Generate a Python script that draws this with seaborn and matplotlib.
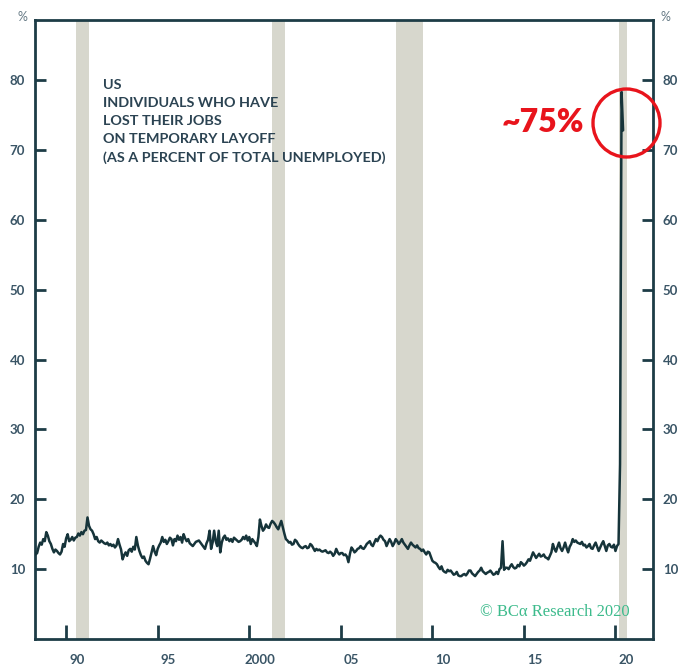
import numpy as np
import pandas as pd
import matplotlib
matplotlib.use("Agg")
import matplotlib.pyplot as plt
from matplotlib.patches import Ellipse
import seaborn as sns

# Job losers on temporary layoff, % of total unemployed (monthly, Jan 1988 - May 2020)
values_1988_1995 = [
    12.4, 12.0, 12.6, 12.1, 12.3, 13.2, 13.8, 13.5, 14.3, 14.0, 15.3, 14.8,   # 1988
    14.0, 13.6, 12.9, 12.4, 12.8, 12.6, 12.3, 12.1, 12.5, 13.6, 13.2, 14.4,   # 1989
    15.0, 14.0, 14.2, 14.6, 14.1, 14.5, 14.6, 15.1, 14.8, 15.3, 15.0, 15.5,   # 1990
    15.6, 17.4, 16.2, 15.7, 15.5, 15.0, 14.3, 14.6, 14.0, 13.8, 14.1, 13.9,   # 1991
    13.7, 13.6, 13.8, 13.4, 13.6, 13.3, 13.5, 13.1, 13.4, 14.3, 13.5, 12.8,   # 1992
    11.4, 12.0, 12.4, 11.9, 12.7, 12.9, 12.5, 13.2, 12.8, 14.6, 13.4, 12.6,   # 1993
    12.0, 11.6, 11.8, 11.2, 10.9, 10.7, 11.5, 12.4, 13.3, 12.5, 12.0, 12.9,   # 1994
    13.4, 13.8, 14.6, 13.9, 14.2, 13.6, 14.0, 14.5, 14.3, 13.4, 14.3, 14.0,   # 1995
]
values_1996_2003 = [
    14.8, 14.2, 14.6, 13.8, 15.0, 14.4, 14.0, 14.3, 13.7, 13.5, 13.3, 13.6,   # 1996
    13.9, 14.0, 14.1, 13.8, 13.5, 13.2, 12.9, 13.7, 14.2, 15.5, 12.9, 13.8,   # 1997
    15.5, 14.0, 13.3, 15.5, 12.4, 13.8, 14.5, 14.8, 14.2, 14.4, 14.0, 14.3,   # 1998
    13.9, 14.5, 14.3, 14.1, 13.9, 14.0, 14.2, 14.6, 14.3, 14.8, 14.1, 14.6,   # 1999
    13.6, 14.3, 14.0, 13.7, 13.3, 14.6, 17.1, 16.2, 15.5, 15.8, 16.4, 16.0,   # 2000
    15.9, 16.5, 16.9, 16.7, 16.4, 16.0, 15.7, 16.3, 16.9, 16.0, 15.1, 14.3,   # 2001
    14.1, 13.8, 13.9, 13.5, 13.6, 14.2, 14.0, 13.6, 13.3, 13.1, 13.0, 13.2,   # 2002
    13.3, 13.0, 13.1, 13.6, 13.4, 13.0, 12.6, 12.9, 12.7, 12.8, 12.6, 12.5,   # 2003
]
values_2004_2011 = [
    12.6, 12.7, 12.4, 12.3, 12.5, 12.3, 11.9, 12.2, 12.9, 12.4, 12.1, 12.3,   # 2004
    12.3, 12.0, 12.1, 11.8, 11.0, 12.2, 13.1, 12.8, 12.4, 12.6, 12.9, 13.0,   # 2005
    13.3, 13.0, 12.9, 13.2, 13.6, 13.8, 14.0, 13.5, 13.3, 13.8, 14.3, 14.0,   # 2006
    14.5, 14.8, 14.6, 14.2, 14.0, 13.3, 13.8, 14.3, 13.9, 13.3, 13.7, 14.3,   # 2007
    14.0, 13.6, 13.9, 14.3, 13.8, 13.5, 13.2, 12.9, 13.4, 13.8, 13.5, 13.3,   # 2008
    13.1, 13.4, 13.0, 12.9, 12.6, 12.8, 12.4, 12.1, 12.5, 12.4, 11.8, 11.2,   # 2009
    11.0, 10.9, 10.7, 10.3, 10.0, 10.4, 9.8, 9.6, 9.5, 9.9, 9.7, 9.8,         # 2010
    9.5, 9.2, 9.3, 9.6, 9.1, 9.0, 9.0, 9.2, 9.3, 9.1, 9.4, 9.8,               # 2011
]
values_2012_2020 = [
    9.8, 9.4, 9.2, 9.0, 9.3, 9.6, 9.8, 10.2, 9.7, 9.5, 9.3, 9.5,             # 2012
    9.6, 9.8, 9.5, 9.2, 9.3, 9.6, 9.3, 10.0, 10.2, 14.0, 9.9, 10.2,          # 2013
    10.2, 10.0, 10.4, 10.7, 10.3, 10.1, 10.2, 10.6, 10.4, 11.0, 10.8, 10.5,  # 2014
    10.7, 11.0, 11.4, 11.2, 11.8, 12.4, 12.0, 11.6, 11.9, 12.2, 11.8, 11.9,  # 2015
    12.1, 11.7, 11.6, 11.4, 11.9, 12.4, 13.6, 12.9, 12.5, 13.2, 13.8, 13.0,  # 2016
    12.6, 13.1, 13.8, 13.0, 12.4, 13.2, 13.6, 14.3, 13.9, 14.1, 13.8, 13.7,  # 2017
    13.6, 13.9, 13.4, 13.5, 13.1, 13.3, 13.6, 13.0, 12.9, 13.4, 13.8, 13.2,  # 2018
    12.6, 13.1, 13.6, 14.0, 13.3, 12.6, 13.4, 13.6, 13.2, 13.1, 13.5, 12.6,  # 2019
    13.3, 13.6, 25.0, 78.3, 72.8,                                            # 2020
]
start_year = 1988

# Recession periods (shaded)
recession_start = [1990.55, 2001.25, 2008.0, 2020.17]
recession_end = [1991.25, 2001.95, 2009.5, 2020.65]

y_ticks = [10, 20, 30, 40, 50, 60, 70, 80]
x_ticks = [1990, 1995, 2000, 2005, 2010, 2015, 2020]
x_tick_labels = ["90", "95", "2000", "05", "10", "15", "20"]

values = values_1988_1995 + values_1996_2003 + values_2004_2011 + values_2012_2020
months = np.arange(1, len(values) + 1)
df = pd.DataFrame({"date": start_year + months / 12.0, "share": values})

sns.set_style("white", {"xtick.bottom": True, "ytick.left": True})
plt.rcParams["font.family"] = ["Lato", "DejaVu Sans"]
plt.rcParams["ytick.right"] = True

INK = "#1d3c46"
LABEL = "#3a5566"

fig = plt.figure(figsize=(6.85, 6.68), dpi=100)
ax = fig.add_axes([35 / 685, 29 / 668, 618 / 685, 619 / 668])

for s, e in zip(recession_start, recession_end):
    ax.axvspan(s, e, color="#d7d7cd", lw=0, zorder=0)

sns.lineplot(data=df, x="date", y="share", ax=ax, color="#16343a", lw=1.8, zorder=3)

ax.set_xlim(1988.3, 2022.05)
ax.set_ylim(0, 88.6)
ax.set_xlabel("")
ax.set_ylabel("")

for sp in ax.spines.values():
    sp.set_color(INK)
    sp.set_linewidth(2.0)

ax.set_yticks(y_ticks)
ax.set_yticklabels([str(v) for v in y_ticks], fontweight="bold")
ax.yaxis.set_ticks_position("both")
ax.tick_params(axis="y", which="major", direction="in", length=8, width=2.0, color=INK,
               left=True, right=True, labelleft=True, labelright=True,
               labelsize=9.5, labelcolor=LABEL, pad=7)

ax.set_xticks(x_ticks)
ax.set_xticklabels([])
ax.tick_params(axis="x", which="major", direction="in", length=10, width=2.0, color=INK,
               bottom=True, top=False)
ax.set_xticks([x + 0.58 for x in x_ticks], minor=True)
ax.set_xticklabels(x_tick_labels, minor=True, fontweight="bold")
ax.tick_params(axis="x", which="minor", bottom=True, length=0, labelsize=9.5,
               labelcolor=LABEL, pad=11)

fig.text(22 / 685, 1 - 17 / 668, "%", ha="center", va="center", fontsize=9, color="#667a85")
fig.text(665 / 685, 1 - 17 / 668, "%", ha="center", va="center", fontsize=9, color="#667a85")

ax.text(0.11, 0.905,
        "US\nINDIVIDUALS WHO HAVE\nLOST THEIR JOBS\nON TEMPORARY LAYOFF\n(AS A PERCENT OF TOTAL UNEMPLOYED)",
        transform=ax.transAxes, ha="left", va="top", fontsize=10.4, fontweight="bold",
        color="#2b4352", linespacing=1.6)

fig.text(543 / 685, 1 - 123 / 668, "~75%", ha="center", va="center",
         fontsize=23, fontweight="heavy", color="#e8141c")
fig.add_artist(Ellipse((626.5 / 685, 1 - 123 / 668), 67 / 685, 68 / 668,
                       transform=fig.transFigure, fill=False, ec="#e8141c", lw=2.4, zorder=10))

fig.text(555 / 685, 1 - 612 / 668, "\u00a9 BC\u03b1 Research 2020", ha="center", va="center",
         fontsize=12, color="#3dbb8c", family=["Liberation Serif", "DejaVu Serif"])

fig.savefig("out.png", dpi=100)
